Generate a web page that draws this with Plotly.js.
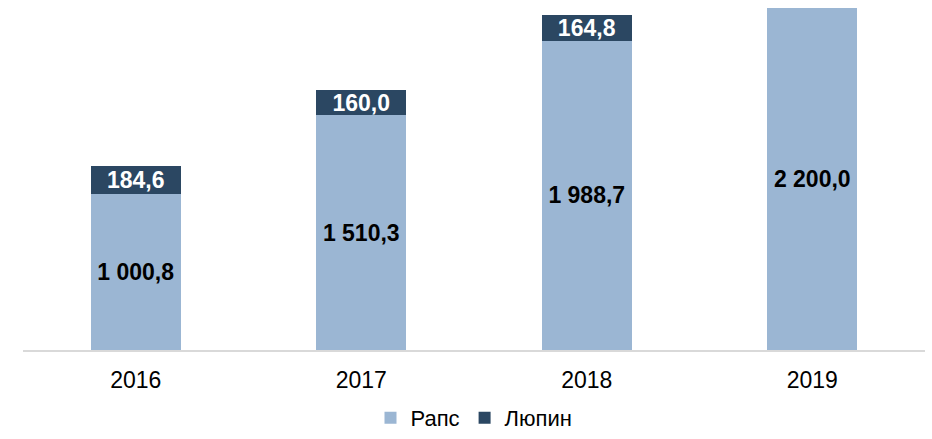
<!DOCTYPE html>
<html>
<head>
<meta charset="utf-8">
<script src="https://cdn.plot.ly/plotly-3.0.1.min.js"></script>
<style>
  html, body { margin: 0; padding: 0; background: #fff; }
  #chart { width: 932px; height: 439px; }
</style>
</head>
<body>
<div id="chart"></div>
<script>
var years = ['2016', '2017', '2018', '2019'];

var raps = [1000.8, 1510.3, 1988.7, 2200.0];
var lupin = [184.6, 160.0, 164.8, null];

// 1 000,8 style
function fmt(v) {
  if (v === null) return '';
  var parts = v.toFixed(1).split('.');
  var intPart = parts[0].replace(/\B(?=(\d{3})+(?!\d))/g, ' ');
  return '<b>' + intPart + ',' + parts[1] + '</b>';
}

var trace1 = {
  x: years,
  y: raps,
  name: 'Рапс',
  type: 'bar',
  text: raps.map(fmt),
  textposition: 'inside',
  insidetextanchor: 'middle',
  constraintext: 'none',
  textfont: { family: 'Liberation Sans, Arial, sans-serif', size: 23, color: '#000' },
  hoverinfo: 'none',
  marker: { color: '#9bb6d3' }
};

var trace2 = {
  x: years,
  y: lupin,
  name: 'Люпин',
  type: 'bar',
  text: lupin.map(fmt),
  textposition: 'inside',
  insidetextanchor: 'middle',
  constraintext: 'none',
  textfont: { family: 'Liberation Sans, Arial, sans-serif', size: 23, color: '#fff' },
  hoverinfo: 'none',
  marker: { color: '#2b4762' }
};

var data = [trace1, trace2];

var layout = {
  barmode: 'stack',
  bargap: 0.6,
  width: 932,
  height: 439,
  margin: { l: 23, r: 7, t: 8, b: 89 },
  paper_bgcolor: '#fff',
  plot_bgcolor: '#fff',
  font: { family: 'Liberation Sans, Arial, sans-serif', size: 22, color: '#000' },
  xaxis: {
    showline: true,
    linecolor: '#d9d9d9',
    linewidth: 2,
    ticks: '',
    showgrid: false,
    automargin: false,
    ticklabelstandoff: 8,
    tickfont: { size: 23, color: '#000' }
  },
  yaxis: {
    range: [0, 2200],
    visible: false,
    showgrid: false,
    zeroline: false
  },
  showlegend: true,
  legend: {
    orientation: 'h',
    x: 0.5,
    xanchor: 'center',
    yref: 'container',
    y: -0.014,
    yanchor: 'bottom',
    font: { size: 22, color: '#000' },
    itemwidth: 30,
    traceorder: 'normal'
  }
};

Plotly.newPlot('chart', data, layout, { displayModeBar: false, staticPlot: true });
</script>
</body>
</html>
